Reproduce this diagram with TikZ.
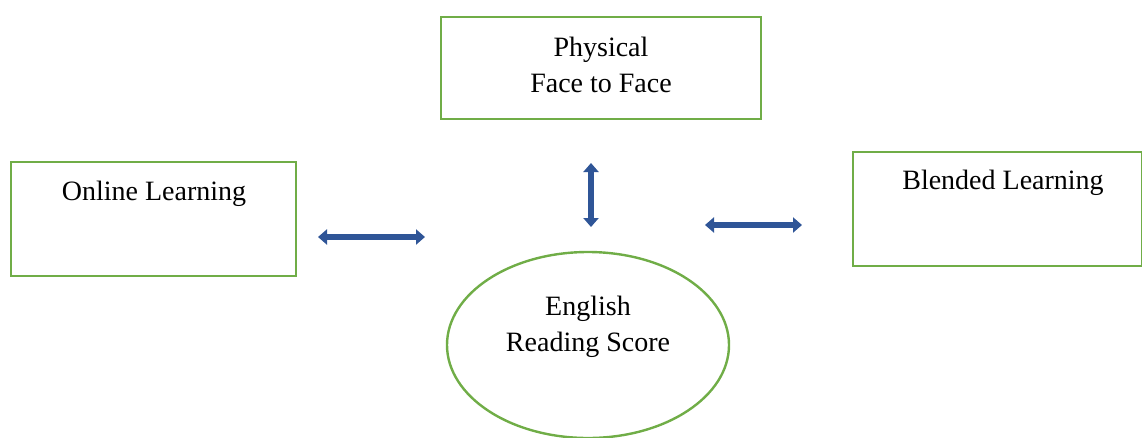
\documentclass[tikz,border=0pt]{standalone}
\usepackage{fontspec}
\setmainfont{Liberation Serif}
\usetikzlibrary{shapes.geometric,arrows.meta}
\definecolor{boxgreen}{RGB}{112,173,71}
\definecolor{arrowblue}{RGB}{47,85,151}
\begin{document}
\begin{tikzpicture}[x=1pt,y=-1pt,
  box/.style={draw=boxgreen,line width=2.4pt,minimum width=#1,inner sep=0pt},
  lbl/.style={font=\fontsize{28}{36}\selectfont,align=center,inner sep=0pt},
  link/.style={draw=arrowblue,line width=5.5pt,{Triangle[width=15pt,length=9pt]}-{Triangle[width=15pt,length=9pt]}}]
\useasboundingbox (0,0) rectangle (1142,437);
% boxes
\node[box=320pt,minimum height=102pt] (phys) at (601,68) {};
\node[box=285pt,minimum height=114pt] (online) at (153.5,219) {};
\node[box=289pt,minimum height=114pt] (blend) at (997.5,209) {};
\node[draw=boxgreen,line width=2.4pt,ellipse,minimum width=282pt,minimum height=186pt,inner sep=0pt] (eng) at (588,345) {};
% labels
\node[lbl] (physT) at (601,65) {Physical\\Face to Face};
\node[lbl] (onlineT) at (154,194) {Online Learning};
\node[lbl] (blendT) at (1003,183) {Blended Learning};
\node[lbl] (engT) at (588,327) {English\\Reading Score};
% arrows
\coordinate (a1) at (318,237); \coordinate (a2) at (425,237);
\coordinate (b1) at (591,163); \coordinate (b2) at (591,227);
\coordinate (c1) at (705,225); \coordinate (c2) at (802,225);
\draw[link] (a1) -- (a2);
\draw[link] (b1) -- (b2);
\draw[link] (c1) -- (c2);
\end{tikzpicture}
\end{document}
